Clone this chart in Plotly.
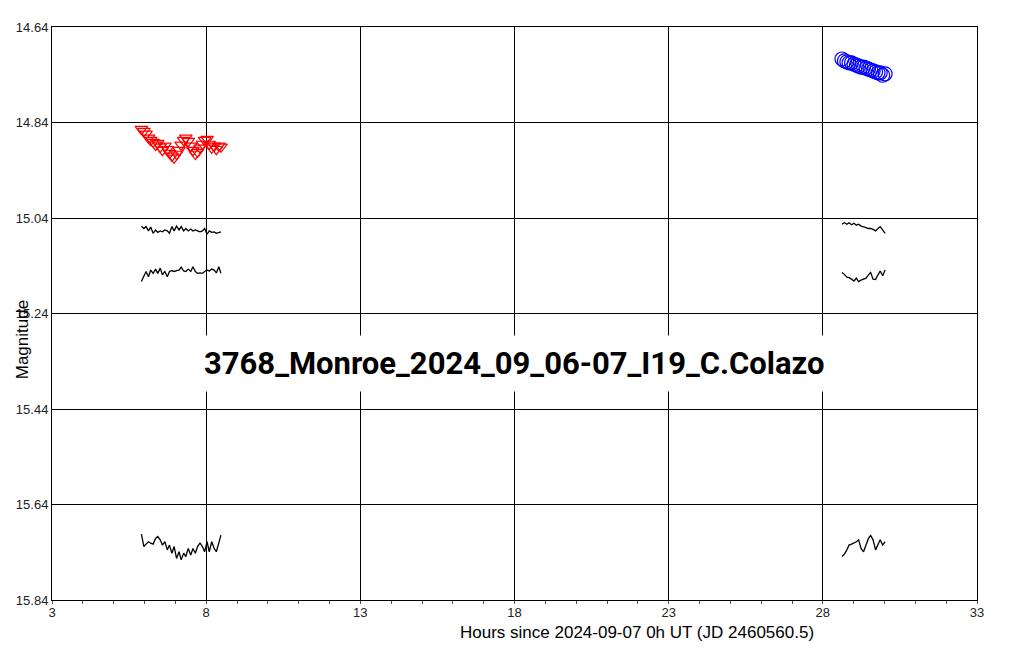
import plotly.graph_objects as go

# ---- data ----
t_left = [5.90, 5.98, 6.05, 6.13, 6.20, 6.28, 6.36, 6.43, 6.51, 6.58, 6.66, 6.74, 6.81, 6.89, 6.96,
          7.04, 7.12, 7.19, 7.27, 7.34, 7.42, 7.50, 7.57, 7.65, 7.72, 7.80, 7.88, 7.95, 8.03, 8.10,
          8.18, 8.26, 8.33, 8.41, 8.48]
t_right = [28.62, 28.70, 28.78, 28.85, 28.93, 29.01, 29.09, 29.16, 29.24, 29.32, 29.40, 29.48,
           29.55, 29.63, 29.71, 29.79, 29.86, 29.94, 30.02]

target_left = [14.854, 14.858, 14.864, 14.872, 14.877, 14.881, 14.887, 14.883, 14.891, 14.898,
               14.889, 14.896, 14.904, 14.910, 14.914, 14.906, 14.898, 14.887, 14.877, 14.872,
               14.879, 14.889, 14.898, 14.906, 14.902, 14.893, 14.885, 14.877, 14.875, 14.885,
               14.893, 14.889, 14.896, 14.889, 14.891]
target_right = [14.707, 14.711, 14.713, 14.715, 14.715, 14.718, 14.720, 14.722, 14.724, 14.724,
                14.726, 14.728, 14.730, 14.732, 14.734, 14.736, 14.736, 14.741, 14.738]

comp1_left = [15.057, 15.062, 15.058, 15.067, 15.059, 15.072, 15.065, 15.070, 15.067, 15.069,
              15.065, 15.067, 15.072, 15.058, 15.067, 15.057, 15.065, 15.058, 15.067, 15.062,
              15.067, 15.063, 15.067, 15.065, 15.067, 15.069, 15.067, 15.062, 15.074, 15.067,
              15.070, 15.069, 15.072, 15.071, 15.069]
comp2_left = [15.173, 15.163, 15.152, 15.163, 15.149, 15.156, 15.147, 15.156, 15.145, 15.159,
              15.152, 15.163, 15.152, 15.150, 15.152, 15.150, 15.149, 15.143, 15.151, 15.152,
              15.147, 15.152, 15.142, 15.152, 15.156, 15.155, 15.156, 15.152, 15.149, 15.151,
              15.147, 15.149, 15.155, 15.142, 15.156]
comp3_left = [15.702, 15.728, 15.723, 15.718, 15.721, 15.723, 15.711, 15.707, 15.714, 15.725,
              15.718, 15.735, 15.725, 15.742, 15.728, 15.753, 15.739, 15.756, 15.742, 15.749,
              15.732, 15.746, 15.732, 15.742, 15.728, 15.721, 15.728, 15.739, 15.718, 15.739,
              15.718, 15.732, 15.739, 15.718, 15.704]

comp1_right = [15.053, 15.050, 15.053, 15.050, 15.054, 15.051, 15.055, 15.053, 15.057, 15.058,
               15.060, 15.062, 15.062, 15.064, 15.067, 15.062, 15.058, 15.065, 15.072]
comp2_right = [15.154, 15.158, 15.164, 15.165, 15.168, 15.172, 15.166, 15.173, 15.170, 15.168,
               15.166, 15.159, 15.154, 15.168, 15.169, 15.159, 15.151, 15.161, 15.149]
comp3_right = [15.749, 15.744, 15.735, 15.725, 15.723, 15.721, 15.718, 15.714, 15.732, 15.739,
               15.723, 15.711, 15.705, 15.714, 15.735, 15.725, 15.714, 15.725, 15.718]

y_ticks = [14.64, 14.84, 15.04, 15.24, 15.44, 15.64, 15.84]
y_ticklabels = ["14.64", "14.84", "15.04", "15.24", "15.44", "15.64", "15.84"]
x_ticks = [3, 8, 13, 18, 23, 28, 33]

title_text = "3768_Monroe_2024_09_06-07_I19_C.Colazo"
x_title = "Hours since 2024-09-07 0h UT (JD 2460560.5)"
y_title = "Magnitude"

fig = go.Figure()

for t, c in [(t_left, comp1_left), (t_left, comp2_left), (t_left, comp3_left),
             (t_right, comp1_right), (t_right, comp2_right), (t_right, comp3_right)]:
    fig.add_trace(go.Scatter(x=t, y=c, mode="lines", line=dict(color="black", width=1.3),
                             showlegend=False, hoverinfo="skip"))

fig.add_trace(go.Scatter(x=t_left, y=target_left, mode="markers",
                         marker=dict(symbol="triangle-down-open", size=11, color="red",
                                     line=dict(width=1.2, color="red")),
                         showlegend=False))
fig.add_trace(go.Scatter(x=t_right, y=target_right, mode="markers",
                         marker=dict(symbol="circle-open", size=14, color="blue",
                                     line=dict(width=1.2, color="blue")),
                         showlegend=False))

axis_font = dict(family="Liberation Sans, Arial, sans-serif", size=13, color="#222")

fig.update_xaxes(range=[3, 33], tickvals=x_ticks, ticktext=[str(v) for v in x_ticks],
                 showgrid=True, gridcolor="black", gridwidth=1,
                 showline=True, linecolor="black", linewidth=1, mirror=True,
                 ticks="", automargin=False,
                 minor=dict(dtick=1, tick0=3, ticks="outside", ticklen=3, tickcolor="#555", showgrid=False),
                 tickfont=axis_font, zeroline=False)
fig.update_yaxes(range=[15.84, 14.64], tickvals=y_ticks, ticktext=y_ticklabels,
                 showgrid=True, gridcolor="black", gridwidth=1,
                 showline=True, linecolor="black", linewidth=1, mirror=True,
                 ticks="", automargin=False, tickfont=axis_font, zeroline=False)

fig.add_annotation(text=title_text, x=0.5, y=(600 - 364) / 573, xref="paper", yref="paper",
                   showarrow=False, bgcolor="white", borderpad=9,
                   font=dict(family="Roboto, sans-serif", size=31, color="black", weight="bold"))
fig.add_annotation(text=x_title, x=(637 - 52) / 925, y=-0.037, xref="paper", yref="paper",
                   xanchor="center", yanchor="top", showarrow=False,
                   font=dict(family="Liberation Sans, Arial, sans-serif", size=17, color="black"))
fig.add_annotation(text=y_title, x=-0.032, y=0.454, xref="paper", yref="paper",
                   xanchor="center", yanchor="middle", textangle=-90, showarrow=False,
                   font=dict(family="Liberation Sans, Arial, sans-serif", size=17, color="black"))

fig.update_layout(width=1011, height=665, margin=dict(l=44, r=42, t=19, b=73),
                  plot_bgcolor="white", paper_bgcolor="white", showlegend=False)

fig.write_html("out.html")
